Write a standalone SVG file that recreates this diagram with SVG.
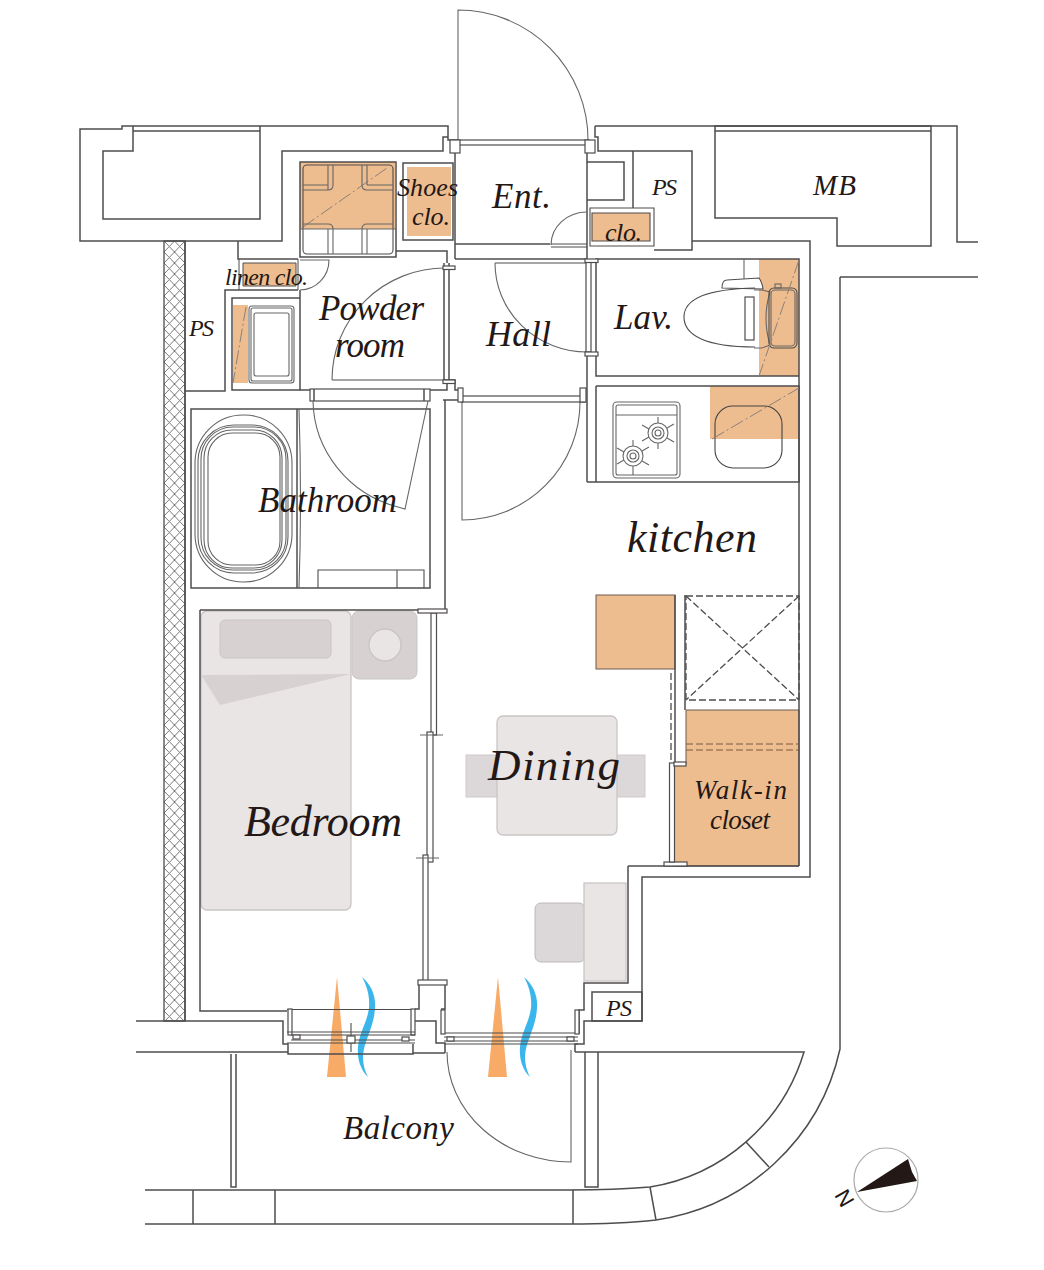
<svg xmlns="http://www.w3.org/2000/svg" width="1044" height="1270" viewBox="0 0 1044 1270">
<style>
.w{fill:none;stroke:#4f4c4c;stroke-width:1.5;stroke-linejoin:miter}
.t{fill:none;stroke:#666;stroke-width:1.1}
.f{fill:#fff;stroke:#4f4c4c;stroke-width:1.2}
.o{fill:#eebd8f}
.ob{fill:#eebd8f;stroke:#6b5a4c;stroke-width:1}
.dd{fill:none;stroke:#8d8078;stroke-width:1;stroke-dasharray:14 3 2 3}
.d{fill:none;stroke:#4f4c4c;stroke-width:1.3;stroke-dasharray:7 3}
.fl{fill:#eae5e5;stroke:#c9c5c5;stroke-width:1.3}
.fd{fill:#d8d1d1;stroke:#c9c5c5;stroke-width:1}
.ch{fill:#dcd7d9;stroke:#cfcacc;stroke-width:1}
.flame{fill:#f6a45a;fill-opacity:.92}
.wave{fill:#2fb2ec;fill-opacity:.95}
text{font-family:"Liberation Serif","Times New Roman",serif;font-style:italic;fill:#231815}
</style>
<defs>
<pattern id="hatch" width="10.5" height="11" patternUnits="userSpaceOnUse" x="164" y="241">
<path d="M0,0L10.5,11M10.5,0L0,11" stroke="#666" stroke-width=".9" fill="none"/>
</pattern>
</defs>

<g id="cooling-wall">
<rect x="164" y="241" width="21" height="780" fill="url(#hatch)" stroke="#4f4c4c" stroke-width="1.3"/>
</g>

<g id="furniture">
<rect class="fl" x="201" y="611" width="150" height="299" rx="6"/>
<rect class="fd" x="220" y="620" width="111" height="38" rx="5"/>
<path d="M201,675L351,674L220,705Z" fill="#d8d1d1"/>
<rect class="fd" x="352" y="611" width="65" height="68" rx="7"/>
<circle class="fl" cx="385" cy="645" r="16"/>
<rect class="ch" x="466" y="755" width="32" height="42"/>
<rect class="ch" x="616" y="755" width="29" height="42"/>
<rect class="fl" x="497" y="716" width="120" height="119" rx="6"/>
<rect class="ch" x="535" y="903" width="50" height="59" rx="6" style="stroke:#bdb8ba"/>
<rect class="fl" x="584" y="883" width="42" height="98"/>
</g>

<g id="storage-fills">
<rect class="o" x="300" y="162" width="95" height="67"/>
<rect class="o" x="407" y="167" width="44" height="69"/>
<rect class="o" x="243" y="263" width="53" height="23"/>
<rect class="o" x="233" y="305" width="15" height="78"/>
<rect class="o" x="592" y="213" width="58" height="28"/>
<rect class="o" x="759" y="259" width="40" height="117"/>
<rect class="o" x="710" y="386" width="89" height="53"/>
<rect class="ob" x="596" y="595" width="79" height="74"/>
<path class="ob" d="M686,710H799V866H674V764H686Z"/>
</g>

<g id="ventilation">
<path class="flame" d="M337,977L346,1077H327Z"/>
<path class="flame" d="M498,977L507,1077H488Z"/>
<path id="wave-1" class="wave" d="M362,977C371,985 376,995 375,1008C374,1028 364,1040 363,1056C363,1065 365,1071 368,1077C361,1070 357,1060 358,1047C359,1033 367,1023 369,1008C370,996 367,986 362,977Z"/>
<path id="wave-2" class="wave" d="M524,977C533,985 538,995 537,1008C536,1028 526,1040 525,1056C525,1065 527,1071 530,1077C523,1070 519,1060 520,1047C521,1033 529,1023 531,1008C532,996 529,986 524,977Z"/>
</g>

<g id="walls">
<path class="w" d="M133,126H448V140H458M133,126H122V129H80V241H282V151H443V137H448"/>
<path class="w" d="M133,126V151H103V219H260V126M133,131H260"/>
<path class="w" d="M238,241V259H298M298,290H225V391H185M185,241V1021"/>
<path class="w" d="M239,259V290M298,259V290M243,263H296V286H243Z" style="stroke-width:1"/>
<path class="w" d="M232,298H300V390H232ZM300,290V390"/>
<path class="w" d="M396,251H447V263M403,163H453V240H403ZM300,162H396V257H300Z"/>
<path class="w" d="M455,153V259M455,244H550M455,259H587"/>
<path class="w" d="M443,380H455V390H458M447,383V390H300"/>
<path class="w" d="M443,400H458M445,400V612M444,263V380M449,263V380"/>
<path class="w" d="M595,126H957V242H978M595,126V137H598V151H692V250H654M633,151V208M587,153V482M587,162H624V200H587"/>
<path class="w" d="M590,208H654V246H590ZM592,213H650V241H592Z" style="stroke-width:1.1"/>
<path class="w" d="M715,126H931V246H837V218H715ZM715,131H931"/>
<path class="w" d="M692,241H810V877H642V993M596,259H799V376H596ZM596,376V355M799,259V866"/>
<path class="w" d="M596,386H799V482H587M596,386V482"/>
<path class="w" d="M840,277H978M840,277V1049A221,221 0 0 1 656,1220Q620,1224 570,1224H145"/>
<path class="w" d="M145,1190H570Q615,1190 650,1187A193,193 0 0 0 804,1052H575"/>
<path class="w" d="M746,1142L769,1167M650,1187L656,1220M193,1190V1224M275,1190V1224M573,1190V1224"/>
<path class="w" d="M585,1052V1187H598V1052"/>
<path class="w" d="M231,1054V1187H236V1054"/>
<path class="w" d="M200,610V1011H287M200,610H430"/>
<path class="w" d="M191,409H430V588H191ZM297,409V588"/>
<path class="w" d="M136,1021H283V1044H288V1054H413V1044M136,1052H288M413,1053H445"/>
<path class="w" d="M415,1009H419V983M445,983V1009H441M419,1021H436V1043H445V1053M419,1021H413M628,866V983H584V1010H579V1034M642,993V1021H584V1044H575V1052M628,866H799"/>
<path class="w" d="M592,992H642V1021H592Z"/>
<path class="w" d="M675,595V764M685,595V710" />
<rect class="f" x="664" y="862" width="23" height="4"/>
<rect class="f" x="669.5" y="763" width="5" height="99"/>
<rect class="f" x="674" y="762" width="12" height="4"/>
<path class="d" d="M671,673V762"/>
<rect class="d" x="686" y="596" width="113" height="104"/>
<path class="d" d="M686,596L799,700M799,596L686,700"/>
<path class="d" d="M686,744H799M686,750H799" style="stroke:#7a5a3f;stroke-width:1"/>
</g>

<g id="doors">
<path class="t" d="M458,140V10A130,130 0 0 1 588,140"/>
<rect class="f" x="458" y="140" width="131" height="5"/>
<rect class="f" x="450" y="140" width="10" height="13"/>
<rect class="f" x="585" y="140" width="10" height="13"/>
<path class="t" d="M587,212A36,33 0 0 0 551,245"/>
<path class="w" d="M551,244H587M551,247H587" style="stroke-width:1"/>
<path class="t" d="M300,260H329A29,30 0 0 1 300,290"/>
<path class="w" d="M332,380H445" style="stroke-width:1.1"/>
<path class="t" d="M332,380A113,112 0 0 1 445,268"/>
<rect class="f" x="443" y="266" width="12" height="3.5"/>
<rect class="f" x="443" y="380" width="12" height="3.5"/>
<path class="w" d="M495,263H587" style="stroke-width:1.1"/>
<path class="t" d="M495,263A92,89 0 0 0 587,352"/>
<rect class="f" x="586" y="262" width="5" height="90"/>
<rect class="f" x="585" y="352" width="13" height="4"/>
<rect class="f" x="585" y="259" width="13" height="3.5"/>
<path class="t" d="M462,402V520A118,118 0 0 0 580,402"/>
<rect class="f" x="461" y="396" width="124" height="6"/>
<rect class="f" x="458" y="388" width="5" height="14"/>
<rect class="f" x="580" y="388" width="6" height="14"/>
<rect class="f" x="310" y="389" width="120" height="12"/>
<path class="w" d="M314,389V401M424,389V401"/>
<path class="t" d="M313,401A115,112 0 0 0 398,507L405,509L428,401"/>
<path class="t" d="M447,1052A124,110 0 0 0 571,1162V1050"/>
<rect class="f" x="431" y="613" width="5.5" height="122"/>
<rect class="f" x="427" y="732" width="6" height="130"/>
<rect class="f" x="423" y="855" width="5" height="126"/>
<path class="t" d="M420,735H443M416,858H439"/>
<rect class="f" x="418" y="609" width="29" height="4"/>
<rect class="f" x="418" y="980" width="29" height="5"/>
</g>

<g id="windows">
<path class="w" d="M287,1009.5H415" style="stroke-width:1.2"/>
<rect class="f" x="288" y="1009" width="4" height="26"/>
<rect class="f" x="411" y="1009" width="4" height="26"/>
<path class="w" d="M287,1032H415M287,1043H415M291,1035H415M291,1040H415M351,1023V1052" style="stroke-width:1.1"/>
<rect class="f" x="293" y="1035" width="7" height="4"/>
<rect class="f" x="402" y="1037" width="7" height="4"/>
<rect class="f" x="347" y="1036" width="8" height="7"/>
<path class="w" d="M444,1033H578M444,1037H578M444,1041H578M444,1044H578" style="stroke-width:1.1"/>
<rect class="f" x="447" y="1037" width="7" height="4"/>
<rect class="f" x="567" y="1037" width="7" height="4"/>
<rect class="f" x="441" y="1010" width="4" height="24"/>
<rect class="f" x="575" y="1010" width="4" height="24"/>
</g>

<g id="fixtures">
<path class="dd" d="M303,227L387,168"/>
<rect class="w" x="303" y="165" width="90" height="89" rx="4" style="stroke-width:1.1"/>
<path class="t" d="M328,165V190H303M333,165V185Q333,190 328,190M362,165V185Q362,190 367,190H393M367,165V185M303,185H328M367,185H393"/>
<path class="t" d="M300,229H396M303,224H328Q333,224 333,229V254M328,229V254M393,224H367Q362,224 362,229V254M367,229V254"/>
<rect class="t" x="249" y="306" width="45" height="77" rx="3"/>
<rect class="t" x="251" y="308" width="41" height="73" rx="2"/>
<rect class="t" x="254" y="313" width="35" height="63" rx="2"/>
<path class="dd" d="M246,307L233,383"/>
<rect class="t" x="195" y="415" width="97" height="167" rx="48"/>
<rect class="t" x="198" y="425" width="90" height="148" rx="36"/>
<rect class="t" x="201" y="427" width="85" height="143" rx="32"/>
<rect class="t" x="204" y="430" width="78" height="138" rx="28"/>
<rect class="t" x="208" y="433" width="72" height="132" rx="24"/>
<path class="t" d="M299,409Q302,500 299,588"/>
<path class="w" d="M318,588V570H424V588M397,570V588" style="stroke-width:1.1"/>
<path class="t" d="M744,259V279"/>
<path class="w" d="M722,288Q722,280 727,280L759,278Q762,282 763,289Z" style="stroke-width:1.1;fill:#fff"/>
<path class="w" d="M755,288C705,289 684,300 684,317C684,335 705,347 755,347" style="stroke-width:1.1"/>
<rect class="f" x="745" y="297" width="9" height="43"/>
<path class="t" d="M754,290H762L770,292Q762,318 770,345L762,348H754"/>
<rect class="w" x="769" y="288" width="28" height="60" rx="5" style="stroke-width:1.1"/>
<rect class="t" x="771" y="290" width="24" height="56" rx="4"/>
<rect class="t" x="775" y="284" width="6" height="4"/>
<path class="dd" d="M799,260L759,376"/>
<rect class="t" x="715" y="406" width="67" height="62" rx="18" style="stroke:#444"/>
<path class="dd" d="M712,439L799,388"/>
<rect class="t" x="613" y="402" width="67" height="76" rx="4"/>
<rect class="t" x="616" y="405" width="61" height="70" rx="2"/>
<path class="t" d="M616,415H677"/>
<g id="burner-1" class="t"><circle cx="658" cy="433" r="10"/><circle cx="658" cy="433" r="6"/><circle cx="658" cy="433" r="3"/><path d="M658,417V423M658,443V449M642,425L649,429M667,438L674,442M642,441L649,437M667,428L674,424"/></g>
<g id="burner-2" class="t"><circle cx="633" cy="456" r="10"/><circle cx="633" cy="456" r="6"/><circle cx="633" cy="456" r="3"/><path d="M633,440V446M633,466V475M617,448L624,452M642,461L649,465M617,464L624,460M642,451L649,447"/></g>
</g>

<g id="compass">
<circle cx="886" cy="1180" r="32" fill="#fff" stroke="#aaa" stroke-width="1.2"/>
<path d="M857,1192L908,1159L912,1172L917,1181Z" fill="#231815"/>
<text transform="translate(845,1198) rotate(-120)" text-anchor="middle" y="7" font-size="22" style="font-family:'Liberation Sans',Arial,sans-serif;font-style:normal">N</text>
</g>

<g id="labels">
<text x="627" y="552" font-size="44" textLength="130">kitchen</text>
<text x="244" y="836" font-size="44" textLength="158">Bedroom</text>
<text x="488" y="780" font-size="45" textLength="132">Dining</text>
<text x="258" y="512" font-size="35" textLength="139">Bathroom</text>
<text x="486" y="346" font-size="36" textLength="65">Hall</text>
<text x="319" y="320" font-size="35" textLength="105">Powder</text>
<text x="335" y="357" font-size="35" textLength="70">room</text>
<text x="492" y="208" font-size="35" textLength="59">Ent.</text>
<text x="614" y="329" font-size="35" textLength="59">Lav.</text>
<text x="343" y="1139" font-size="33" textLength="111">Balcony</text>
<text x="397" y="196" font-size="26" textLength="61">Shoes</text>
<text x="412" y="225" font-size="26" textLength="38">clo.</text>
<text x="225" y="285" font-size="24" textLength="83">linen clo.</text>
<text x="605" y="241" font-size="26" textLength="37">clo.</text>
<text x="189" y="336" font-size="24" textLength="25">PS</text>
<text x="652" y="195" font-size="24" textLength="25">PS</text>
<text x="606" y="1016" font-size="24" textLength="26">PS</text>
<text x="813" y="195" font-size="29" textLength="43">MB</text>
<text x="694" y="799" font-size="27" textLength="93">Walk-in</text>
<text x="710" y="829" font-size="27" textLength="60">closet</text>
</g>
</svg>
